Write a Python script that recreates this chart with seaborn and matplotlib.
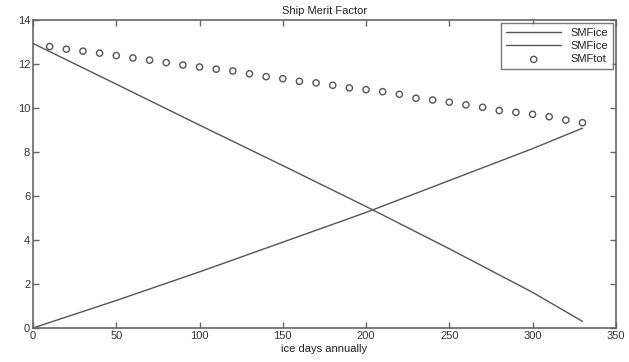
import matplotlib
matplotlib.use("Agg")
import matplotlib.pyplot as plt
import seaborn as sns
import pandas as pd

# Ship merit factor versus number of ice days per year
days_line = [0, 50, 100, 150, 200, 250, 300, 330]
smf_ice_open = [12.93, 11.08, 9.22, 7.38, 5.52, 3.6, 1.62, 0.3]
smf_ice_ice = [0.0, 1.25, 2.55, 3.9, 5.25, 6.7, 8.15, 9.08]

days_tot = list(range(10, 340, 10))
smf_tot = [12.79, 12.67, 12.58, 12.49, 12.38, 12.27, 12.17, 12.06, 11.95, 11.86,
           11.76, 11.68, 11.55, 11.42, 11.33, 11.21, 11.14, 11.03, 10.91, 10.83,
           10.74, 10.62, 10.44, 10.36, 10.26, 10.14, 10.03, 9.88, 9.80, 9.71,
           9.60, 9.45, 9.33]

sns.set_style("white")
plt.rcParams["font.family"] = ["Liberation Sans", "DejaVu Sans"]

fig = plt.figure(figsize=(6.29, 3.62), dpi=100)
ax = fig.add_axes([0.0525, 0.094, 0.9265, 0.851])

line_color = "#555555"
df1 = pd.DataFrame({"days": days_line, "smf": smf_ice_open})
df2 = pd.DataFrame({"days": days_line, "smf": smf_ice_ice})
df3 = pd.DataFrame({"days": days_tot, "smf": smf_tot})

sns.lineplot(data=df1, x="days", y="smf", ax=ax, color=line_color, lw=1.0, label="SMFice")
sns.lineplot(data=df2, x="days", y="smf", ax=ax, color=line_color, lw=1.0, label="SMFice")
sns.scatterplot(data=df3, x="days", y="smf", ax=ax, marker="o", s=20,
                facecolor="none", edgecolor="#555555", linewidth=1.0, label="SMFtot")

ax.set_xlim(0, 350)
ax.set_ylim(0, 14)
ax.set_xticks(range(0, 351, 50))
ax.set_yticks(range(0, 15, 2))
ax.tick_params(direction="in", length=4, width=1, color="#666666",
               labelsize=8, labelcolor="#333333", top=True, right=True,
               bottom=True, left=True, pad=2)
for sp in ax.spines.values():
    sp.set_visible(True)
    sp.set_color("#666666")
    sp.set_linewidth(1.2)

ax.set_title("Ship Merit Factor", fontsize=8, color="#222222", pad=4)
ax.set_xlabel("ice days annually", fontsize=8, color="#222222", labelpad=2)
ax.set_ylabel("")

leg = ax.legend(loc="upper right", fontsize=8, frameon=True, fancybox=False,
                edgecolor="#555555", borderpad=0.45, handlelength=5.0,
                labelspacing=0.3, handletextpad=0.8, borderaxespad=0.25)
leg.get_frame().set_linewidth(1.0)
for t in leg.get_texts():
    t.set_ha("right")
    t.set_color("#222222")

fig.savefig("out.png", dpi=100)
